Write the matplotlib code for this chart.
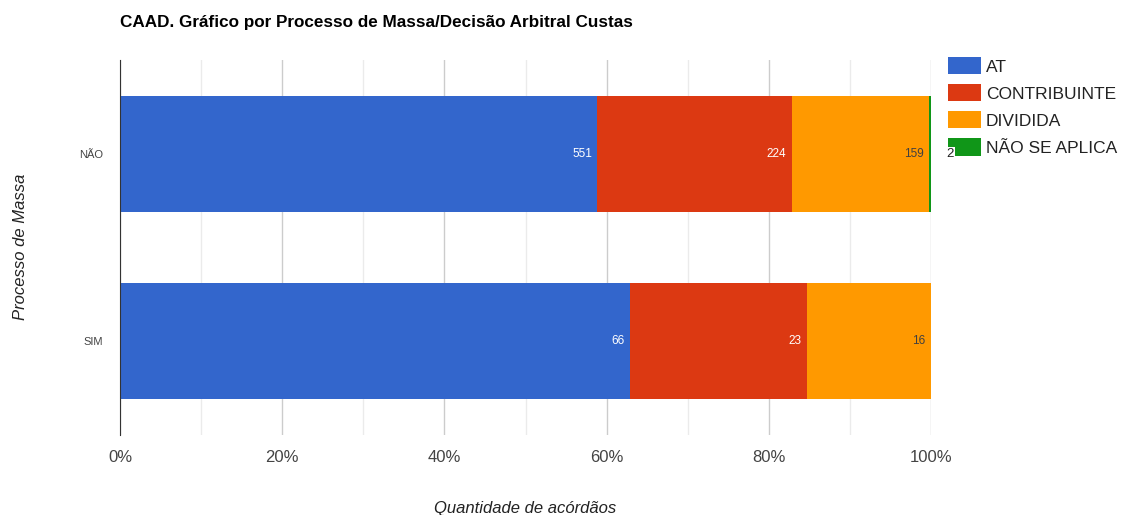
import numpy as np
import matplotlib.pyplot as plt
from matplotlib.ticker import FuncFormatter, MultipleLocator

plt.rcParams['font.family'] = ['Liberation Sans', 'DejaVu Sans']

# dados
categorias = ['NÃO', 'SIM']
series = ['AT', 'CONTRIBUINTE', 'DIVIDIDA', 'NÃO SE APLICA']
valores = {
    'AT': [551, 66],
    'CONTRIBUINTE': [224, 23],
    'DIVIDIDA': [159, 16],
    'NÃO SE APLICA': [2, 0],
}
cores = ['#3366cc', '#dc3912', '#ff9900', '#109618']
cor_texto = ['white', 'white', '#404040', '#222222']

fig = plt.figure(figsize=(11.24, 5.15), dpi=100)
ax = fig.add_axes([0.1068, 0.1553, 0.7215, 0.7282])

totais = np.array([sum(valores[s][i] for s in series) for i in range(len(categorias))], dtype=float)
ypos = np.arange(len(categorias))[::-1]  # NÃO em cima
esq = np.zeros(len(categorias))

for s, cor, ct in zip(series, cores, cor_texto):
    v = np.array(valores[s], dtype=float)
    frac = v / totais
    ax.barh(ypos, frac, left=esq, height=0.617, color=cor, label=s, zorder=3)
    for y, f, l, n in zip(ypos, frac, esq, valores[s]):
        if n == 0:
            continue
        fim = l + f
        if f > 0.01:
            ax.annotate(str(n), (fim, y), xytext=(-4, 0), textcoords='offset points',
                        ha='right', va='center', fontsize=8.5, color=ct, zorder=4)
        else:
            # rótulo pequeno fora da barra, por cima da legenda
            ax.annotate(str(n), (fim, y), xytext=(11, 0), textcoords='offset points',
                        ha='left', va='center', fontsize=9.5, color=ct, zorder=10,
                        annotation_clip=False,
                        bbox=dict(boxstyle='square,pad=0.08', fc='white', ec='none'))
    esq = esq + frac

ax.set_xlim(0, 1)
ax.set_ylim(-0.5, 1.5)
ax.set_yticks(ypos)
ax.set_yticklabels(categorias, fontsize=8, color='#444444')
ax.xaxis.set_major_locator(MultipleLocator(0.2))
ax.xaxis.set_minor_locator(MultipleLocator(0.1))
ax.xaxis.set_major_formatter(FuncFormatter(lambda x, p: f'{x * 100:.0f}%'))
ax.tick_params(axis='x', which='both', length=0, labelsize=12, labelcolor='#444444', pad=11)
ax.tick_params(axis='y', length=0, pad=12)
ax.grid(axis='x', which='major', color='#cccccc', lw=1, zorder=0)
ax.grid(axis='x', which='minor', color='#ebebeb', lw=1, zorder=0)
for sp in ['top', 'right', 'bottom']:
    ax.spines[sp].set_visible(False)
ax.spines['left'].set_color('#333333')
ax.spines['left'].set_zorder(5)

ax.set_xlabel('Quantidade de acórdãos', fontstyle='italic', fontsize=12, color='#222222', labelpad=26)
fig.text(0.018, 0.52, 'Processo de Massa', rotation=90, fontstyle='italic', fontsize=12,
         color='#222222', ha='center', va='center')
fig.text(0.107, 0.957, 'CAAD. Gráfico por Processo de Massa/Decisão Arbitral Custas',
         fontsize=12.3, fontweight='bold', color='black', ha='left', va='center')

leg = ax.legend(loc='upper left', bbox_to_anchor=(0.843, 0.889), bbox_transform=fig.transFigure,
                frameon=False, fontsize=12.5, handlelength=1.9, handleheight=1.15,
                handletextpad=0.3, labelspacing=0.55, borderaxespad=0, borderpad=0,
                labelcolor='#222222')
leg.set_zorder(5)

fig.savefig('out.png', dpi=100)
